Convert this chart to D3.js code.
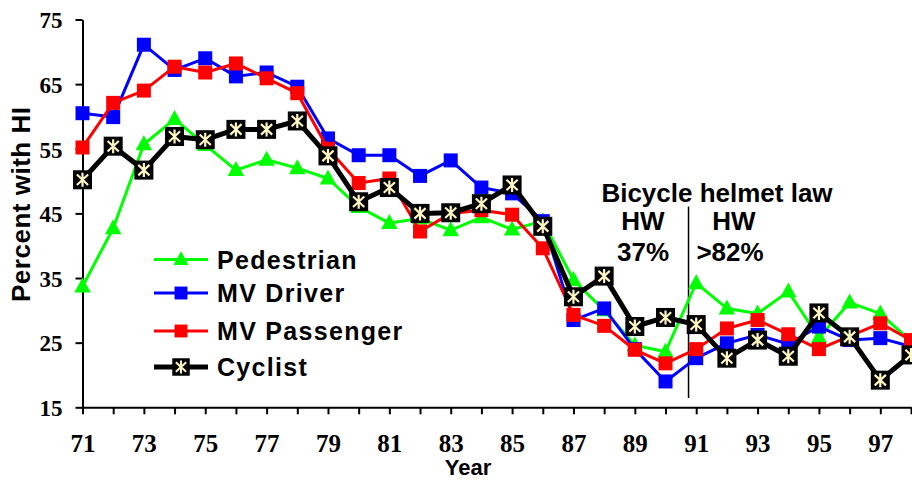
<!DOCTYPE html>
<html>
<head>
<meta charset="utf-8">
<script src="https://cdnjs.cloudflare.com/ajax/libs/d3/7.8.5/d3.min.js"></script>
<style>
    body { margin: 0; background: #fff; }
    svg { display: block; }
</style>
</head>
<body>
<div id="chart_container"></div>
<script>
// values (percent with head injury)
var years = [71, 72, 73, 74, 75, 76, 77, 78, 79, 80, 81, 82, 83, 84,
             85, 86, 87, 88, 89, 90, 91, 92, 93, 94, 95, 96, 97, 98];
var pedestrian = [33.7, 42.7, 55.7, 59.6, 55.6, 51.7, 53.3, 52.0, 50.4, 46.0, 43.5, 44.2, 42.4, 44.4,
                  42.5, 43.8, 34.7, 30.0, 24.6, 23.6, 34.2, 30.3, 29.5, 32.9, 25.8, 31.2, 29.5, 25.2];
var mvDriver = [60.5, 59.9, 71.1, 67.2, 69.0, 66.2, 66.8, 64.6, 56.6, 54.0, 54.0, 50.8, 53.2, 49.0,
                48.1, 43.8, 28.5, 30.3, 24.0, 19.0, 22.6, 24.9, 26.2, 24.8, 27.5, 25.4, 25.7, 24.4];
var mvPassenger = [55.2, 62.1, 64.0, 67.7, 66.8, 68.2, 65.9, 63.6, 55.0, 49.7, 50.4, 42.2, 45.0, 45.5,
                   44.8, 39.6, 29.3, 27.6, 23.9, 21.8, 24.0, 27.2, 28.5, 26.3, 24.0, 26.0, 28.0, 25.4];
var cyclist = [50.2, 55.4, 51.7, 56.9, 56.4, 58.0, 58.0, 59.3, 53.9, 46.8, 49.0, 45.0, 45.1, 46.5,
               49.4, 43.0, 32.1, 35.3, 27.5, 28.9, 27.8, 22.6, 25.4, 22.9, 29.6, 25.9, 19.2, 23.1];
var yTicks = [15, 25, 35, 45, 55, 65, 75];
var lawYear = 90.75;

var seriesNames = ["Pedestrian", "MV Driver", "MV Passenger", "Cyclist"];
var seriesValues = [pedestrian, mvDriver, mvPassenger, cyclist];

draw_chart();

function draw_chart() {
    var chart_width = 912;
    var chart_height = 482;
    var sans = "'Liberation Sans', Arial, sans-serif";
    var serif = "'Liberation Serif', 'Times New Roman', serif";

    var svg = d3.select("#chart_container")
        .append("svg")
        .attr("width", chart_width)
        .attr("height", chart_height);

    var x = d3.scaleLinear().domain([71, 98]).range([82.5, 911]);
    var y = d3.scaleLinear().domain([15, 75]).range([407.3, 19.5]);

    // series styles
    var styles = [
        {color: "#00ff00", width: 3, marker: "triangle"},
        {color: "#0000ff", width: 3, marker: "square"},
        {color: "#ff0000", width: 3, marker: "square"},
        {color: "#000000", width: 5, marker: "cyclist"}
    ];

    // vertical line for the helmet law
    svg.append("line")
        .attr("x1", x(lawYear)).attr("x2", x(lawYear))
        .attr("y1", 206.5).attr("y2", 398)
        .attr("stroke", "#000")
        .attr("stroke-width", 1.5);

    // Axes
    var yAxis = d3.axisLeft(y)
        .tickValues(yTicks)
        .tickSize(7)
        .tickSizeOuter(0)
        .tickPadding(13);
    var gy = svg.append("g")
        .attr("transform", "translate(" + x(71) + ",0)")
        .call(yAxis);
    gy.selectAll("text")
        .style("font-family", serif)
        .style("font-weight", "bold")
        .style("font-size", "23px")
        .attr("fill", "#000")
        .attr("dy", "0.36em");

    var xAxis = d3.axisBottom(x)
        .tickValues(years)
        .tickSize(7)
        .tickSizeOuter(0)
        .tickFormat(function(d) { return d % 2 === 1 ? d : ""; });
    var gx = svg.append("g")
        .attr("transform", "translate(0," + y(15) + ")")
        .call(xAxis);
    gx.selectAll("text")
        .style("font-family", serif)
        .style("font-weight", "bold")
        .style("font-size", "25px")
        .attr("fill", "#000")
        .attr("y", 45)
        .attr("dy", 0);

    svg.selectAll(".domain, .tick line")
        .attr("stroke", "#000")
        .attr("stroke-width", 2);

    // Axis labels
    svg.append("text")
        .attr("transform", "translate(30,204.5) rotate(-90)")
        .attr("text-anchor", "middle")
        .attr("textLength", 195)
        .style("font-family", sans)
        .style("font-weight", "bold")
        .style("font-size", "26px")
        .text("Percent with HI");

    svg.append("text")
        .attr("x", 468)
        .attr("y", 475)
        .attr("text-anchor", "middle")
        .style("font-family", sans)
        .style("font-weight", "bold")
        .style("font-size", "22px")
        .text("Year");

    // Lines and markers
    var line = d3.line()
        .x(function(d) { return x(d.year); })
        .y(function(d) { return y(d.value); });

    seriesValues.forEach(function(values, i) {
        var pts = years.map(function(yr, j) { return {year: yr, value: values[j]}; });
        var g = svg.append("g").attr("class", "series");
        g.append("path")
            .datum(pts)
            .attr("d", line)
            .attr("fill", "none")
            .attr("stroke", styles[i].color)
            .attr("stroke-width", styles[i].width)
            .attr("stroke-linejoin", "round");
        pts.forEach(function(p) {
            draw_marker(g, x(p.year), y(p.value), styles[i], 1);
        });
    });

    // Legend
    var legendY = [259.5, 293, 331, 367];
    seriesNames.forEach(function(name, i) {
        svg.append("line")
            .attr("x1", 154).attr("x2", 208)
            .attr("y1", legendY[i]).attr("y2", legendY[i])
            .attr("stroke", styles[i].color)
            .attr("stroke-width", styles[i].width);
        draw_marker(svg, 181, legendY[i], styles[i], 0.92);
        svg.append("text")
            .attr("x", 217)
            .attr("y", legendY[i] + 9)
            .style("font-family", sans)
            .style("font-weight", "bold")
            .style("font-size", "25px")
            .style("letter-spacing", "1.3px")
            .text(name);
    });

    // Annotation text
    var notes = [
        {text: "Bicycle helmet law", x: 717, y: 201.5},
        {text: "HW", x: 643, y: 230},
        {text: "37%", x: 643, y: 261},
        {text: "HW", x: 734, y: 230},
        {text: ">82%", x: 730, y: 261}
    ];
    notes.forEach(function(n) {
        svg.append("text")
            .attr("x", n.x)
            .attr("y", n.y)
            .attr("text-anchor", "middle")
            .style("font-family", sans)
            .style("font-weight", "bold")
            .style("font-size", "26px")
            .text(n.text);
    });
}

function draw_marker(g, cx, cy, style, k) {
    if (style.marker === "square") {
        var s = 14 * k;
        g.append("rect")
            .attr("x", cx - s / 2).attr("y", cy - s / 2)
            .attr("width", s).attr("height", s)
            .attr("fill", style.color);
    } else if (style.marker === "triangle") {
        var h = 15 * k;
        g.append("path")
            .attr("d", "M" + cx + "," + (cy - h * 0.6) +
                       "L" + (cx + h * 0.55) + "," + (cy + h * 0.4) +
                       "L" + (cx - h * 0.55) + "," + (cy + h * 0.4) + "Z")
            .attr("fill", style.color);
    } else {
        var b = 19 * k;
        g.append("rect")
            .attr("x", cx - b / 2).attr("y", cy - b / 2)
            .attr("width", b).attr("height", b)
            .attr("fill", "#000");
        var a = 7 * k;
        var star = "M" + cx + "," + (cy - a) + "L" + cx + "," + (cy + a) +
                   "M" + (cx - a * 0.8) + "," + (cy - a * 0.75) + "L" + (cx + a * 0.8) + "," + (cy + a * 0.75) +
                   "M" + (cx + a * 0.8) + "," + (cy - a * 0.75) + "L" + (cx - a * 0.8) + "," + (cy + a * 0.75);
        g.append("path")
            .attr("d", star)
            .attr("stroke", "#fff6c4")
            .attr("stroke-width", 2.2 * k)
            .attr("fill", "none");
    }
}
</script>
</body>
</html>
